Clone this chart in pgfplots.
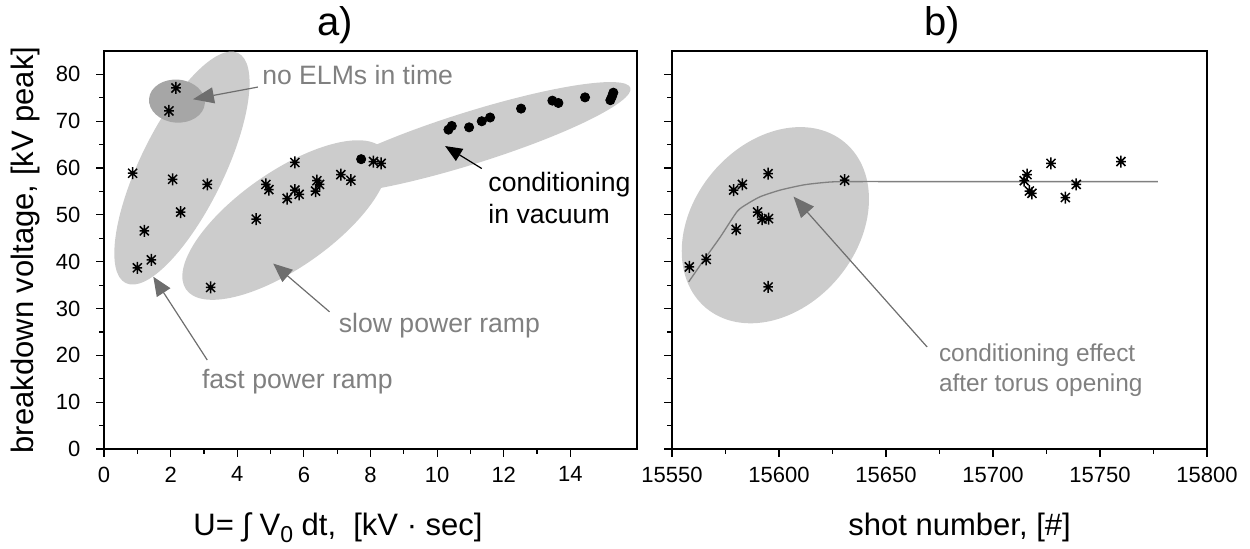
\documentclass[border=0pt]{standalone}
\usepackage{pgfplots}
\pgfplotsset{compat=1.18}
\usepackage{fontspec}
\setmainfont{Liberation Sans}
\usetikzlibrary{shapes.geometric,arrows.meta}

\definecolor{ellL}{HTML}{CCCCCC}
\definecolor{ellD}{HTML}{A6A6A6}
\definecolor{txtG}{HTML}{808080}
\definecolor{arrG}{HTML}{6E6E6E}

\pgfdeclareplotmark{star8}{%
  \pgfpathmoveto{\pgfqpoint{0pt}{\pgfplotmarksize}}\pgfpathlineto{\pgfqpoint{0pt}{-\pgfplotmarksize}}%
  \pgfpathmoveto{\pgfqpoint{0.8\pgfplotmarksize}{0pt}}\pgfpathlineto{\pgfqpoint{-0.8\pgfplotmarksize}{0pt}}%
  \pgfpathmoveto{\pgfqpoint{0.75\pgfplotmarksize}{0.75\pgfplotmarksize}}\pgfpathlineto{\pgfqpoint{-0.75\pgfplotmarksize}{-0.75\pgfplotmarksize}}%
  \pgfpathmoveto{\pgfqpoint{-0.75\pgfplotmarksize}{0.75\pgfplotmarksize}}\pgfpathlineto{\pgfqpoint{0.75\pgfplotmarksize}{-0.75\pgfplotmarksize}}%
  \pgfusepathqstroke
  \pgfpathcircle{\pgfpointorigin}{0.3\pgfplotmarksize}\pgfusepathqfill}

\tikzset{
  ell/.style={ellipse, inner sep=0pt, draw=none},
  ann/.style={inner sep=0pt, font=\fontsize{13.3}{16}\selectfont},
  annb/.style={inner sep=0pt, font=\fontsize{12.2}{15}\selectfont},
  ttl/.style={inner sep=0pt, anchor=center, font=\fontsize{20}{24}\selectfont},
}

\pgfplotsset{
  panel/.style={
    scale only axis, height=199pt, clip=false,
    ymin=0, ymax=85, ytick={0,10,...,80}, minor y tick num=1,
    tick align=outside, xtick pos=left, ytick pos=left,
    major tick length=3.8pt, minor tick length=2.3pt,
    axis line style={line width=0.7pt},
    every tick/.style={line width=0.6pt, black},
    xticklabel style={font=\fontsize{11}{13}\selectfont, yshift=-1.5pt},
    yticklabel style={font=\fontsize{11}{13}\selectfont, xshift=-4.5pt},
    /pgf/number format/assume math mode=true,
    /pgf/number format/1000 sep={},
    label style={font=\fontsize{15.5}{18}\selectfont},
  },
  star/.style={only marks, mark=star8, mark size=3.0pt, mark options={line width=0.75pt, black}},
}

\begin{document}
\begin{tikzpicture}
% ---------------- panel a) ----------------
\begin{axis}[panel, width=266.5pt,
  xmin=0, xmax=16, xtick={0,2,...,14}, minor x tick num=1,
  xlabel={U= ∫ V\raisebox{-0.45ex}{\fontsize{11.5}{12}\selectfont 0} dt,\ \ [kV · sec]},
  xlabel style={at={(axis description cs:0.439,-0.2162)}, anchor=base},
  ylabel={breakdown voltage, [kV peak]},
  ylabel style={at={(axis description cs:-0.1482,0.5)}, anchor=center},
]
% ellipses
\node[ell, fill=ellL, minimum width=128pt, minimum height=42pt, rotate=64] at (axis cs:2.34,60.0) {};
\node[ell, fill=ellL, minimum width=121pt, minimum height=48pt, rotate=35] at (axis cs:5.44,48.9) {};
\node[ell, fill=ellL, minimum width=168pt, minimum height=26pt, rotate=17.4] at (axis cs:10.99,66.4) {};
\node[ell, fill=ellD, minimum width=28pt, minimum height=21.5pt, rotate=-5] at (axis cs:2.19,74.3) {};

% stars (ramps)
\addplot[star] coordinates {
 (2.16,77.1) (1.95,72.2) (0.86,58.9) (2.06,57.6) (3.10,56.5) (2.30,50.6)
 (1.21,46.6) (1.42,40.4) (1.00,38.7) (3.20,34.5)
 (5.73,61.2) (4.86,56.5) (4.95,55.4) (4.57,49.1) (5.50,53.5) (5.73,55.3)
 (5.86,54.4) (6.39,57.3) (6.47,56.5) (6.35,55.1) (7.11,58.6) (7.41,57.4)
 (8.09,61.4) (8.32,61.0)
};
% dots (conditioning in vacuum)
\addplot[only marks, mark=*, mark size=2.3pt, black] coordinates {
 (7.72,61.9) (10.34,68.2) (10.44,69.0) (10.96,68.7) (11.34,70.0) (11.59,70.8)
 (12.52,72.7) (13.46,74.4) (13.64,73.9) (14.44,75.1) (15.20,74.5) (15.25,75.3) (15.29,76.1)
};

% annotations
\draw[arrG, line width=0.6pt, -{Triangle[length=10.5pt,width=8pt]}] (axis cs:4.62,77.3) -- (axis cs:2.67,74.7);
\node[ann, txtG, anchor=base west] at (axis cs:4.74,77.9) {no ELMs in time};

\draw[black, line width=0.6pt, -{Triangle[length=8.5pt,width=7pt]}] (axis cs:11.34,59.9) -- (axis cs:10.24,64.7);
\node[ann, black, anchor=base west] at (axis cs:11.53,54.9) {conditioning};
\node[ann, black, anchor=base west] at (axis cs:11.53,48.2) {in vacuum};

\draw[arrG, line width=0.6pt, -{Triangle[length=9.5pt,width=8pt]}] (axis cs:3.10,19.0) -- (axis cs:1.48,36.8);
\node[ann, txtG, anchor=base west] at (axis cs:2.93,13.0) {fast power ramp};

\draw[arrG, line width=0.6pt, -{Triangle[length=9.5pt,width=8pt]}] (axis cs:6.77,29.3) -- (axis cs:5.08,39.6);
\node[ann, txtG, anchor=base west] at (axis cs:7.04,24.8) {slow power ramp};

\node[ttl] at (axis description cs:0.433,1.0653) {a)};
\end{axis}

% ---------------- panel b) ----------------
\begin{axis}[panel, width=267.5pt, at={(284pt,0pt)}, anchor=south west,
  xmin=15550, xmax=15800, xtick={15550,15600,...,15800}, minor x tick num=1,
  scaled x ticks=false, xticklabel style={/pgf/number format/fixed, /pgf/number format/precision=0},
  yticklabels={},
  xlabel={shot number, [\#]},
  xlabel style={at={(axis description cs:0.5376,-0.2162)}, anchor=base},
]
\node[ell, fill=ellL, minimum width=108pt, minimum height=82pt, rotate=50] at (axis cs:15598.3,47.8) {};

\addplot[txtG, line width=0.65pt, smooth, tension=0.4] coordinates {
 (15557.8,35.7) (15564.8,40.3) (15572.6,45.3) (15580.4,50.7) (15585.0,52.3)
 (15591.3,53.9) (15600.6,55.3) (15611.5,56.4) (15620.8,56.9) (15630.2,57.1)
 (15680,57.1) (15777,57.1)
};

\addplot[star] coordinates {
 (15558.1,38.9) (15566.0,40.5) (15580.0,46.9) (15578.8,55.3) (15582.9,56.5)
 (15594.9,58.8) (15590.0,50.6) (15592.1,49.1) (15595.1,49.2) (15594.9,34.6)
 (15630.7,57.4)
 (15727.1,61.0) (15759.8,61.4) (15715.9,58.6) (15714.6,57.3) (15717.0,55.1)
 (15718.2,54.6) (15738.9,56.5) (15733.8,53.7)
};

\draw[arrG, line width=0.6pt, -{Triangle[length=10.5pt,width=8.5pt]}] (axis cs:15669.2,21.8) -- (axis cs:15606.8,53.9);
\node[annb, txtG, anchor=base west] at (axis cs:15674.6,18.6) {conditioning effect};
\node[annb, txtG, anchor=base west] at (axis cs:15674.6,12.2) {after torus opening};

\node[ttl] at (axis description cs:0.505,1.0653) {b)};
\end{axis}

\pgfresetboundingbox
\path[use as bounding box] (-52pt,-49.5pt) rectangle (573pt,224.5pt);
\end{tikzpicture}
\end{document}
